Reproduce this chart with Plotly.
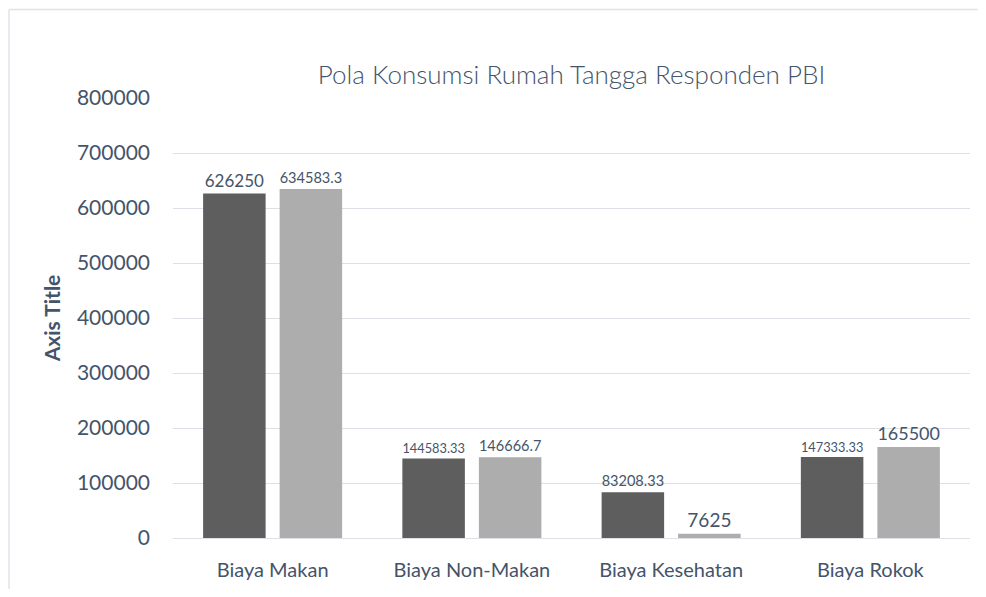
import plotly.graph_objects as go

categories = ["Biaya Makan", "Biaya Non-Makan", "Biaya Kesehatan", "Biaya Rokok"]
series1 = [626250, 144583.33, 83208.33, 147333.33]
series2 = [634583.3, 146666.7, 7625, 165500]
labels1 = ["626250", "144583.33", "83208.33", "147333.33"]
labels2 = ["634583.3", "146666.7", "7625", "165500"]
y_ticks = [0, 100000, 200000, 300000, 400000, 500000, 600000, 700000, 800000]

FONT = "Lato"
TXT = "#44546a"
GRID = "#dde1e7"

# page body has an 8px margin; compensate so the plot area lands on the same pixels
W, H = 970, 581

fig = go.Figure()
fig.add_trace(go.Bar(
    x=categories, y=series1, name="Series 1",
    marker=dict(color="#5e5e5e", line=dict(width=0)),
    text=labels1, textposition="outside", cliponaxis=False,
    textfont=dict(family=FONT, size=[17, 14.5, 17, 16], color=TXT),
))
fig.add_trace(go.Bar(
    x=categories, y=series2, name="Series 2",
    marker=dict(color="#adadad", line=dict(width=0)),
    text=labels2, textposition="outside", cliponaxis=False,
    textfont=dict(family=FONT, size=[19, 19, 19, 19], color=TXT),
))

fig.update_layout(
    width=W, height=H,
    margin=dict(l=165, r=8, t=90, b=49),
    paper_bgcolor="white", plot_bgcolor="white",
    showlegend=False,
    barmode="group", bargap=0.232, bargroupgap=0.183,
    font=dict(family=FONT, color=TXT),
    title=dict(
        text="Pola Konsumsi Rumah Tangga Responden PBI",
        font=dict(family=FONT, size=26, color=TXT, weight=300),
        x=0.5, xanchor="center", xref="paper",
        y=1 - 67 / H, yanchor="middle", yref="container",
    ),
    xaxis=dict(
        showgrid=False, showline=True, linecolor=GRID, linewidth=1,
        ticks="", tickfont=dict(family=FONT, size=20, color=TXT),
        ticklabelstandoff=14,
    ),
    yaxis=dict(
        range=[0, 800000], tickvals=y_ticks,
        ticktext=[str(v) for v in y_ticks],
        showgrid=True, gridcolor=GRID, gridwidth=1,
        zeroline=False, showline=False, ticks="",
        tickfont=dict(family=FONT, size=21, color=TXT),
        ticklabelstandoff=22,
        title=dict(text="<b>Axis Title</b>", font=dict(family=FONT, size=21, color=TXT),
                   standoff=10),
    ),
)

# chart-area frame: left and top edges (screen ~x=8, y=8; plot area x 173..970, y 98..540)
fx0 = (9 - 173) / (970 - 173)
fy1 = (540 - 9) / (540 - 98)
frame = dict(color="#dfe3e8", width=1.5)
fig.add_shape(type="line", xref="paper", yref="paper",
              x0=fx0, x1=fx0, y0=-0.2, y1=fy1, line=frame, layer="below")
fig.add_shape(type="line", xref="paper", yref="paper",
              x0=fx0, x1=1.05, y0=fy1, y1=fy1, line=frame, layer="below")

fig.write_html("out.html")
